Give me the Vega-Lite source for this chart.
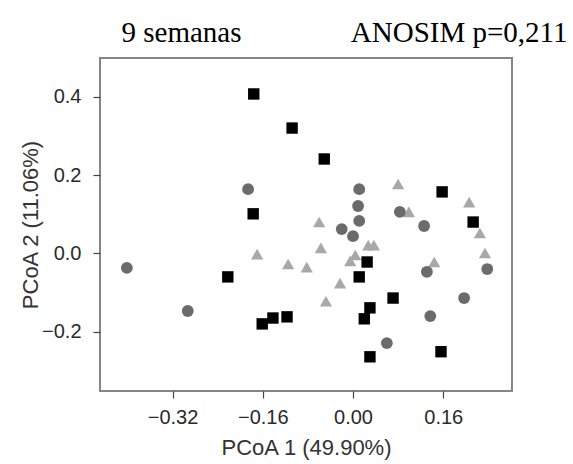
{
  "$schema": "https://vega.github.io/schema/vega-lite/v6.json",
  "width": 412,
  "height": 333,
  "autosize": {"type": "none"},
  "padding": {"left": 100, "top": 58, "right": 61, "bottom": 73},
  "background": "white",
  "config": {
    "view": {"stroke": "#858585", "strokeWidth": 2},
    "axis": {
      "labelFont": "Liberation Sans",
      "labelFontSize": 20,
      "labelColor": "#2a2a2a",
      "titleFont": "Liberation Sans",
      "titleFontSize": 22,
      "titleFontWeight": "normal",
      "titleColor": "#333333",
      "tickColor": "#444444",
      "tickSize": 7,
      "tickWidth": 1.2,
      "domain": false,
      "grid": false
    }
  },
  "data": {
    "values": [
      {"grupo": "A", "x": -0.170, "y": -0.002},
      {"grupo": "A", "x": -0.115, "y": -0.027},
      {"grupo": "A", "x": -0.082, "y": -0.035},
      {"grupo": "A", "x": -0.060, "y": 0.080},
      {"grupo": "A", "x": -0.057, "y": 0.014},
      {"grupo": "A", "x": -0.023, "y": -0.076},
      {"grupo": "A", "x": -0.048, "y": -0.122},
      {"grupo": "A", "x": -0.005, "y": -0.019},
      {"grupo": "A", "x": 0.004, "y": -0.004},
      {"grupo": "A", "x": 0.027, "y": 0.021},
      {"grupo": "A", "x": 0.037, "y": 0.021},
      {"grupo": "A", "x": 0.080, "y": 0.177},
      {"grupo": "A", "x": 0.099, "y": 0.106},
      {"grupo": "A", "x": 0.144, "y": -0.022},
      {"grupo": "A", "x": 0.206, "y": 0.131},
      {"grupo": "A", "x": 0.225, "y": 0.052},
      {"grupo": "A", "x": 0.234, "y": 0.001},
      {"grupo": "B", "x": -0.401, "y": -0.037},
      {"grupo": "B", "x": -0.293, "y": -0.147},
      {"grupo": "B", "x": -0.186, "y": 0.164},
      {"grupo": "B", "x": 0.011, "y": 0.164},
      {"grupo": "B", "x": 0.009, "y": 0.121},
      {"grupo": "B", "x": 0.011, "y": 0.083},
      {"grupo": "B", "x": -0.020, "y": 0.062},
      {"grupo": "B", "x": 0.000, "y": 0.044},
      {"grupo": "B", "x": 0.083, "y": 0.106},
      {"grupo": "B", "x": 0.126, "y": 0.070},
      {"grupo": "B", "x": 0.131, "y": -0.047},
      {"grupo": "B", "x": 0.137, "y": -0.160},
      {"grupo": "B", "x": 0.060, "y": -0.229},
      {"grupo": "B", "x": 0.197, "y": -0.114},
      {"grupo": "B", "x": 0.238, "y": -0.040},
      {"grupo": "C", "x": -0.176, "y": 0.407},
      {"grupo": "C", "x": -0.108, "y": 0.320},
      {"grupo": "C", "x": -0.051, "y": 0.241},
      {"grupo": "C", "x": -0.177, "y": 0.101},
      {"grupo": "C", "x": 0.158, "y": 0.157},
      {"grupo": "C", "x": 0.213, "y": 0.080},
      {"grupo": "C", "x": -0.222, "y": -0.060},
      {"grupo": "C", "x": 0.011, "y": -0.060},
      {"grupo": "C", "x": 0.025, "y": -0.022},
      {"grupo": "C", "x": -0.161, "y": -0.180},
      {"grupo": "C", "x": -0.142, "y": -0.165},
      {"grupo": "C", "x": -0.117, "y": -0.162},
      {"grupo": "C", "x": 0.071, "y": -0.114},
      {"grupo": "C", "x": 0.030, "y": -0.139},
      {"grupo": "C", "x": 0.020, "y": -0.167},
      {"grupo": "C", "x": 0.030, "y": -0.264},
      {"grupo": "C", "x": 0.156, "y": -0.251}
    ]
  },
  "layer": [
    {
      "mark": {"type": "point", "filled": true, "opacity": 1, "strokeWidth": 0},
      "encoding": {
        "x": {
          "field": "x",
          "type": "quantitative",
          "scale": {"domain": [-0.4486, 0.2819], "nice": false, "zero": false},
          "axis": {
            "title": "PCoA 1 (49.90%)",
            "values": [-0.32, -0.16, 0, 0.16],
            "format": ".2f",
            "labelPadding": 9,
            "titlePadding": 10
          }
        },
        "y": {
          "field": "y",
          "type": "quantitative",
          "scale": {"domain": [-0.3513, 0.4988], "nice": false, "zero": false},
          "axis": {
            "title": "PCoA 2 (11.06%)",
            "values": [-0.2, 0, 0.2, 0.4],
            "format": ".1f",
            "labelPadding": 12,
            "titlePadding": -1
          }
        },
        "shape": {
          "field": "grupo",
          "type": "nominal",
          "scale": {"domain": ["A", "B", "C"], "range": ["triangle-up", "circle", "square"]},
          "legend": null
        },
        "color": {
          "field": "grupo",
          "type": "nominal",
          "scale": {"domain": ["A", "B", "C"], "range": ["#a8a8a8", "#6b6b6b", "#000000"]},
          "legend": null
        },
        "size": {
          "field": "grupo",
          "type": "nominal",
          "scale": {"domain": ["A", "B", "C"], "range": [150, 130, 180]},
          "legend": null
        }
      }
    },
    {
      "mark": {"type": "point", "opacity": 0},
      "encoding": {
        "x": {
          "field": "x",
          "type": "quantitative",
          "axis": {
            "orient": "top",
            "title": "9 semanas",
            "labels": false,
            "ticks": false,
            "titleFont": "Liberation Serif",
            "titleFontSize": 29,
            "titleColor": "#000000",
            "titleAnchor": "start",
            "titleAlign": "left",
            "titleBaseline": "alphabetic",
            "titleX": 21,
            "titleY": -17
          }
        },
        "y": {
          "field": "y",
          "type": "quantitative",
          "axis": {
            "orient": "right",
            "title": "ANOSIM p=0,211",
            "labels": false,
            "ticks": false,
            "titleFont": "Liberation Serif",
            "titleFontSize": 29,
            "titleColor": "#000000",
            "titleAngle": 0,
            "titleAlign": "right",
            "titleBaseline": "alphabetic",
            "titleX": 55,
            "titleY": -17
          }
        }
      }
    }
  ],
  "resolve": {"axis": {"x": "independent", "y": "independent"}}
}
